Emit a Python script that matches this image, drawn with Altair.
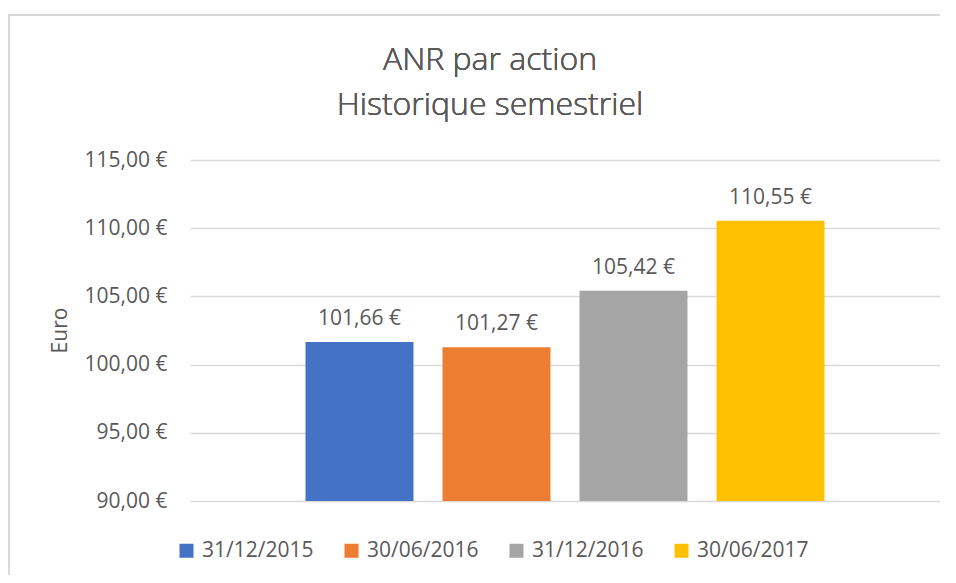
import altair as alt
import pandas as pd

series = ["31/12/2015", "30/06/2016", "31/12/2016", "30/06/2017"]
values = [101.66, 101.27, 105.42, 110.55]
colors = ["#4472C4", "#ED7D31", "#A5A5A5", "#FFC000"]
y_ticks = [90, 95, 100, 105, 110, 115]
title_lines = ["ANR par action", "Historique semestriel"]

df = pd.DataFrame({"serie": series, "valeur": values})
df["base"] = 90
df["label"] = [f"{v:.2f}".replace(".", ",") + " €" for v in values]

FONT = "Open Sans"
TXT = "#595959"

x_enc = alt.X("serie:N", sort=series, axis=None,
              scale=alt.Scale(paddingInner=0.212, paddingOuter=0.843))
y_scale = alt.Scale(domain=[90, 115], nice=False, zero=False)

bars = alt.Chart(df).mark_bar().encode(
    x=x_enc,
    y=alt.Y("valeur:Q", scale=y_scale,
            axis=alt.Axis(values=y_ticks, title="Euro",
                          labelExpr="replace(format(datum.value, '.2f'), '.', ',') + ' €'",
                          domain=False, ticks=False, labelPadding=23,
                          grid=True, gridColor="#D9D9D9", gridWidth=1.5,
                          labelFont=FONT, labelFontSize=21, labelColor=TXT,
                          titleFont=FONT, titleFontSize=21, titleColor=TXT,
                          titleFontWeight="normal",
                          titleX=-130, titleY=170, titleAngle=-90,
                          titleAlign="center", titleBaseline="middle")),
    y2="base:Q",
    color=alt.Color("serie:N", sort=series,
                    scale=alt.Scale(domain=series, range=colors),
                    legend=alt.Legend(title=None, orient="none", direction="horizontal",
                                      columns=4, legendX=-14, legendY=380,
                                      symbolType="square", symbolSize=196,
                                      symbolStrokeWidth=0, labelFont=FONT,
                                      labelFontSize=21, labelColor=TXT,
                                      labelOffset=5, columnPadding=27, padding=0)),
)

labels = alt.Chart(df).mark_text(baseline="bottom", dy=-13, font=FONT,
                                 fontSize=21, color=TXT).encode(
    x=x_enc,
    y=alt.Y("valeur:Q", scale=y_scale),
    text="label:N",
)

title = alt.Chart(df).mark_text(text=title_lines, font=FONT, fontSize=32,
                                fontWeight=300, color=TXT, align="center",
                                baseline="middle", lineHeight=45, clip=False).encode(
    x=alt.value(300), y=alt.value(-100)
)

border = alt.Chart(df).mark_rect(fill=None, stroke="#D9D9D9", strokeWidth=2,
                                 clip=False).encode(
    x=alt.value(-181), y=alt.value(-145), x2=alt.value(800), y2=alt.value(600)
)

chart = alt.layer(border, title, bars, labels).properties(
    width=750, height=341,
    autosize=alt.AutoSizeParams(type="none"),
    padding={"left": 182, "top": 152, "right": 0, "bottom": 74},
).configure_view(stroke=None)

chart.save("out.html", embed_options={"renderer": "svg", "actions": False})
